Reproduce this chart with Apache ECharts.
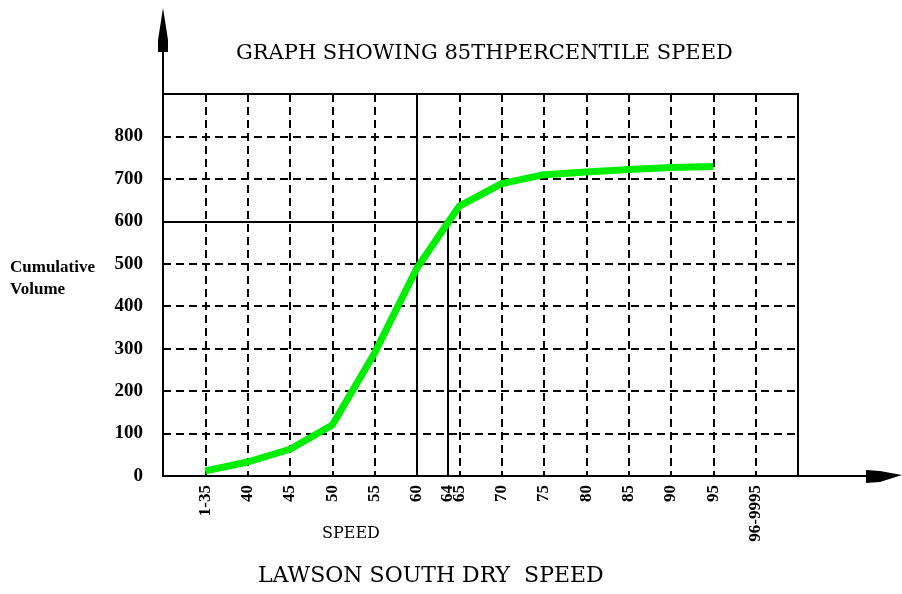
<!DOCTYPE html>
<html>
<head>
<meta charset="utf-8">
<script src="https://cdn.jsdelivr.net/npm/echarts@6/dist/echarts.min.js"></script>
<style>
  html, body { margin: 0; padding: 0; background: #fff; }
  #main { width: 902px; height: 594px; }
</style>
</head>
<body>
<div id="main"></div>
<script>
// speed classes along the x axis (position = slot index, 64 sits between 60 and 65)
var speedLabels = ['1-35', '40', '45', '50', '55', '60', '64', '65', '70', '75', '80', '85', '90', '95', '96-9995'];
var labelSlots = [0, 1, 2, 3, 4, 5, 5.73, 6, 7, 8, 9, 10, 11, 12, 13];
// cumulative volume at each speed class (1-35 .. 95)
var curveSlots = [0, 1, 2, 3, 4, 5, 6, 7, 8, 9, 10, 11, 12];
var cumVolume = [12, 33, 63, 120, 290, 490, 636, 689, 710, 716, 722, 727, 729];
var yTicks = [0, 100, 200, 300, 400, 500, 600, 700, 800];
// 85th percentile reading
var p85Slot = 5.73;
var p85Volume = 600;

var serdata = [];
for (var i = 0; i < curveSlots.length; i++) {
    serdata.push([curveSlots[i], cumVolume[i]]);
}

var myChart = echarts.init(document.getElementById('main'));
var dashed = { color: '#000', width: 2, type: [8, 5] };
var serif = 'Liberation Serif';
var wide = 'DejaVu Serif';

option = {
    animation: false,
    grid: {
        left: 163, right: 104, top: 94, bottom: 118,
        show: true, borderColor: '#000', borderWidth: 2, backgroundColor: 'transparent'
    },
    xAxis: {
        type: 'value',
        min: -1, max: 14, interval: 1,
        axisLine: { onZero: false, lineStyle: { color: '#000', width: 2 } },
        axisTick: { show: false },
        splitLine: { show: true, lineStyle: dashed },
        axisLabel: {
            customValues: labelSlots,
            rotate: 90,
            margin: 9,
            color: '#000',
            fontFamily: serif,
            fontWeight: 'bold',
            fontSize: 17,
            formatter: function (v) {
                var k = labelSlots.indexOf(v);
                return k >= 0 ? speedLabels[k] : '';
            }
        }
    },
    yAxis: {
        type: 'value',
        min: 0, max: 900, interval: 100,
        axisLine: { show: true, onZero: false, lineStyle: { color: '#000', width: 2 } },
        axisTick: { show: false },
        splitLine: { show: true, lineStyle: dashed },
        axisLabel: {
            margin: 20,
            color: '#000',
            fontFamily: serif,
            fontWeight: 'bold',
            fontSize: 19,
            formatter: function (v) { return yTicks.indexOf(v) >= 0 ? String(v) : ''; }
        }
    },
    series: [{
        type: 'line',
        data: serdata,
        symbol: 'none',
        lineStyle: { color: '#00ee00', width: 7 },
        z: 5,
        markLine: {
            silent: true,
            symbol: 'none',
            label: { show: false },
            lineStyle: { color: '#000', width: 2, type: 'solid' },
            data: [
                [{ coord: [-1, p85Volume] }, { coord: [p85Slot, p85Volume] }],
                [{ coord: [p85Slot, 0] }, { coord: [p85Slot, p85Volume] }],
                [{ coord: [5, 0] }, { coord: [5, 900] }]
            ]
        }
    }],
    graphic: [
        // extended y axis with arrow
        { type: 'line', shape: { x1: 163, y1: 94, x2: 163, y2: 30 }, style: { stroke: '#000', lineWidth: 2 } },
        { type: 'polygon', shape: { points: [[163, 8], [168, 40], [168, 52], [158, 52], [158, 40]] }, style: { fill: '#000' } },
        // extended x axis with arrow
        { type: 'line', shape: { x1: 798, y1: 476, x2: 870, y2: 476 }, style: { stroke: '#000', lineWidth: 2 } },
        { type: 'polygon', shape: { points: [[866, 470], [880, 471], [902, 475], [880, 482], [866, 483]] }, style: { fill: '#000' } },
        { type: 'text', left: 236, top: 43, style: { text: 'GRAPH SHOWING 85THPERCENTILE SPEED', fontFamily: wide, fontSize: 21, fill: '#000' } },
        { type: 'text', left: 10, top: 257, style: { text: 'Cumulative\nVolume', fontFamily: serif, fontWeight: 'bold', fontSize: 17, lineHeight: 22, fill: '#000' } },
        { type: 'text', left: 322, top: 526, style: { text: 'SPEED', fontFamily: wide, fontSize: 16, fill: '#000' } },
        { type: 'text', left: 258, top: 565, style: { text: 'LAWSON SOUTH DRY  SPEED', fontFamily: wide, fontSize: 22, fill: '#000' } }
    ]
};
myChart.setOption(option);
</script>
</body>
</html>
